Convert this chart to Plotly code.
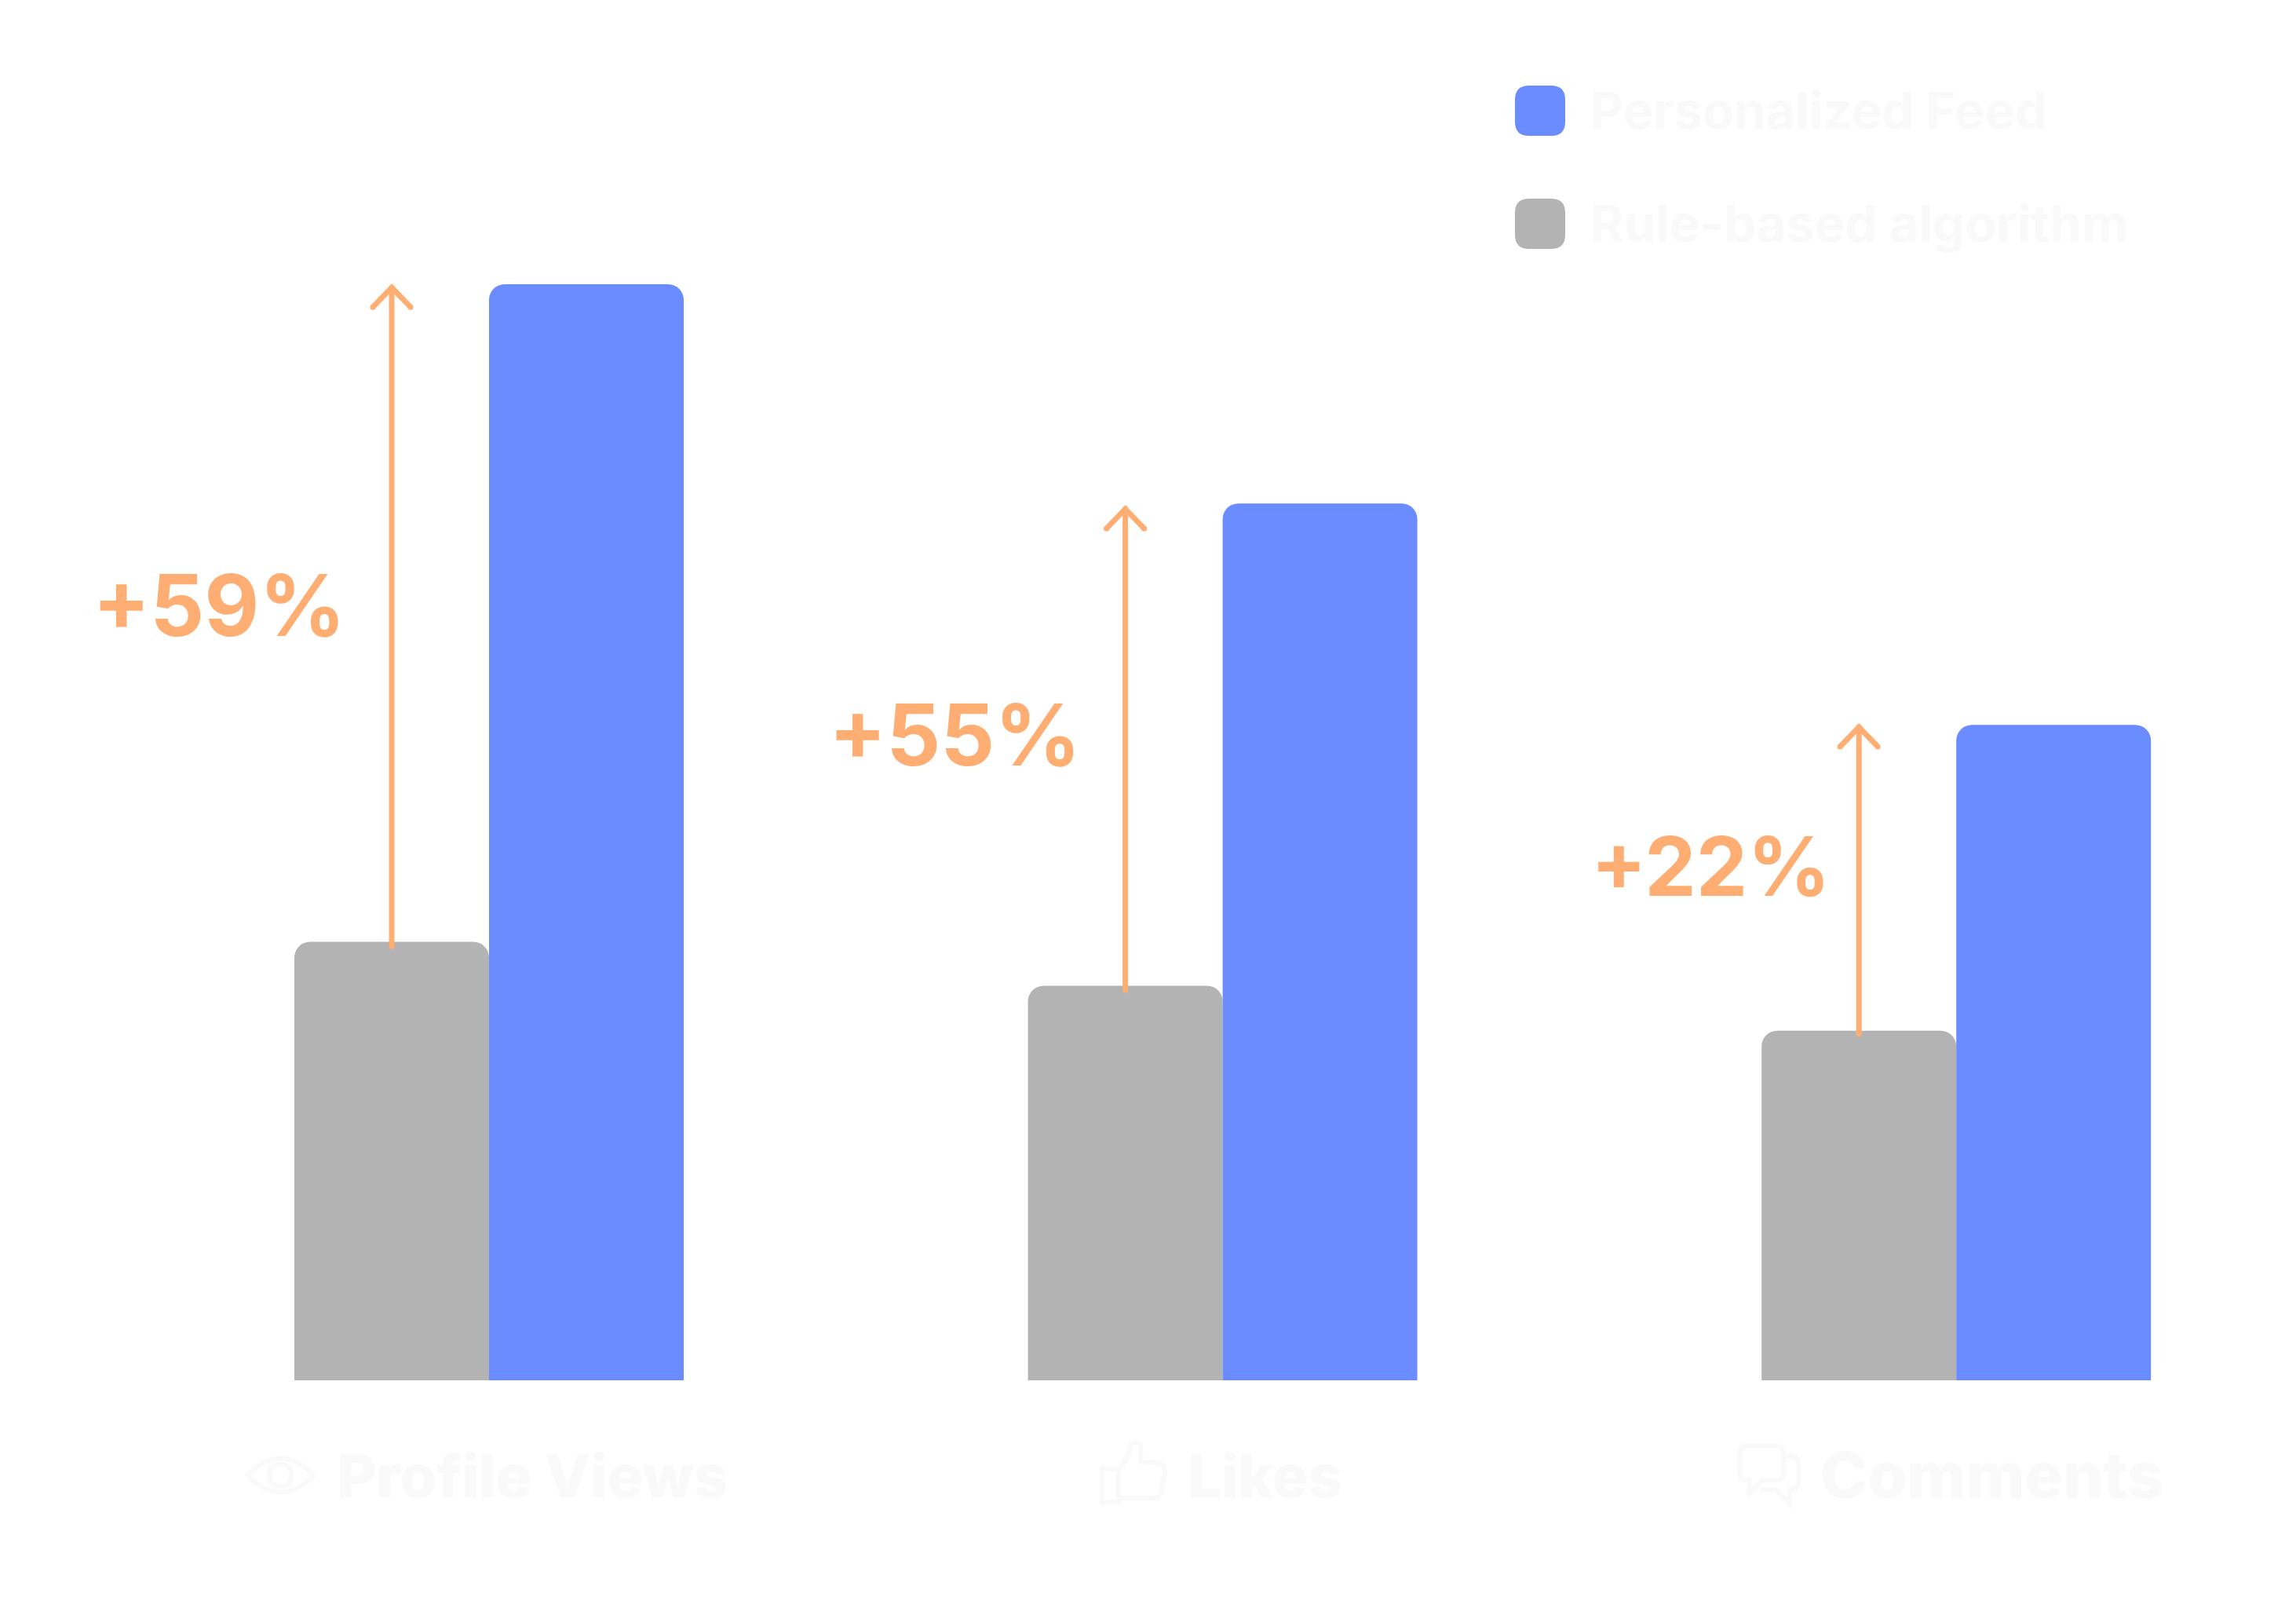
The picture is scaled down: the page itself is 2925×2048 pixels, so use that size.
import re

import plotly.graph_objects as go

# values
categories = ["Profile Views", "Likes", "Comments"]
series_names = ["Personalized Feed", "Rule-based algorithm"]
personalized = [100, 80, 59.8]
rule_based = [40, 36, 31.9]
uplift_labels = ["+59%", "+55%", "+22%"]
arrow_base = [39.6, 35.6, 31.6]
arrow_top = [99.7, 79.5, 59.6]

BLUE = "#6A8CFF"
GREY = "#B3B3B3"
ORANGE = "#FFAE73"
FAINT = "#F9F9F9"
FONT = "Inter"

W, H = 2925, 2048
BASE_PX = 1758  # y pixel of value 0
GROUP_PX = 934.6  # distance between groups
BAR_PX = 248
FIRST_PX = 623  # centre of first group
UNIT_PX = 13.96  # pixels per value unit

x_pos = list(range(len(categories)))
bar_unit = BAR_PX / GROUP_PX
wing_x = 24 / GROUP_PX
wing_y = 25 / UNIT_PX

# pixel offsets and sizes for the text
label_xshift = [-344, -341, -313]
label_yshift = [15, 19, 18]
label_size = [108, 108, 104]
cat_xshift = [-195, -47, -175]
cat_size = [76, 76, 81]


def to_paper(path, ox=0, oy=0, k=1):
    def repl(m):
        x = (ox + float(m.group(1)) * k) / W
        y = 1 - (oy + float(m.group(2)) * k) / H
        return f"{x:.5f},{y:.5f}"
    return re.sub(r"(-?[\d.]+),(-?[\d.]+)", repl, path)


def rounded(x0, y0, x1, y1, r):
    return (f"M{x0 + r},{y0} L{x1 - r},{y0} Q{x1},{y0} {x1},{y0 + r} L{x1},{y1 - r} "
            f"Q{x1},{y1} {x1 - r},{y1} L{x0 + r},{y1} Q{x0},{y1} {x0},{y1 - r} "
            f"L{x0},{y0 + r} Q{x0},{y0} {x0 + r},{y0} Z")


fig = go.Figure()
fig.add_trace(go.Bar(x=x_pos, y=rule_based, name=series_names[1], marker_color=GREY, marker_line_width=0))
fig.add_trace(go.Bar(x=x_pos, y=personalized, name=series_names[0], marker_color=BLUE, marker_line_width=0))

# arrows sit over the centre of the grey bar
arrow_x, arrow_y = [], []
for i in x_pos:
    cx = i - bar_unit / 2
    arrow_x += [cx, cx, None, cx - wing_x, cx, cx + wing_x, None]
    arrow_y += [arrow_base[i], arrow_top[i], None, arrow_top[i] - wing_y, arrow_top[i], arrow_top[i] - wing_y, None]
fig.add_trace(go.Scatter(x=arrow_x, y=arrow_y, mode="lines+markers", hoverinfo="skip",
                         line=dict(color=ORANGE, width=7), marker=dict(color=ORANGE, size=7)))

for i in x_pos:
    fig.add_annotation(x=i, y=(arrow_base[i] + arrow_top[i]) / 2, text=uplift_labels[i], showarrow=False,
                       xanchor="center", yanchor="middle", xshift=label_xshift[i], yshift=label_yshift[i],
                       font=dict(family=FONT, size=label_size[i], color=ORANGE, weight=700))
    fig.add_annotation(x=i, y=-121 / UNIT_PX, text=categories[i], showarrow=False, xanchor="left",
                       yanchor="middle", xshift=cat_xshift[i],
                       font=dict(family=FONT, size=cat_size[i], color=FAINT, weight=800))

# legend
for name, color, top in [(series_names[0], BLUE, 109), (series_names[1], GREY, 253)]:
    fig.add_shape(type="path", path=to_paper(rounded(1930, top, 1994, top + 64, 18)), xref="paper", yref="paper",
                  fillcolor=color, line_width=0)
    fig.add_annotation(x=2024 / W, y=1 - (top + 31) / H, xref="paper", yref="paper", text=name, showarrow=False,
                       xanchor="left", yanchor="middle",
                       font=dict(family=FONT, size=65, color=FAINT, weight=700))

# category icons, outlines
icons = [
    to_paper("M315,1879 Q335,1858 357.5,1857.5 Q380,1858 400,1879 Q380,1900 357.5,1900.5 Q335,1900 315,1879 Z"),
    to_paper("M343,1879 Q343,1865 357,1865 Q371,1865 371,1879 Q371,1893 357,1893 Q343,1893 343,1879 Z"),
    to_paper("M42,137 L105,137 L105,265 L42,265 Z", 1390, 1825, 1 / 3),
    to_paper("M105,137 Q135,110 145,70 L150,50 Q155,35 170,37 Q190,40 190,60 L190,110 L250,113 "
             "Q285,118 282,150 L268,225 Q262,250 240,250 L105,250", 1390, 1825, 1 / 3),
    to_paper("M65,50 L173,50 Q203,50 203,80 L203,150 Q203,180 173,180 L122,180 L70,232 L70,180 L65,180 "
             "Q35,180 35,150 L35,80 Q35,50 65,50 Z", 2205, 1825, 1 / 3),
    to_paper("M213,88 L225,88 Q260,88 260,123 L260,183 Q260,218 225,218 L225,272 L172,218 L112,218",
             2205, 1825, 1 / 3),
]
for path in icons:
    fig.add_shape(type="path", path=path, xref="paper", yref="paper", line=dict(color=FAINT, width=6))

fig.update_layout(
    width=W,
    height=H,
    margin=dict(l=0, r=0, t=0, b=0),
    paper_bgcolor="white",
    plot_bgcolor="white",
    showlegend=False,
    barmode="group",
    bargap=1 - 2 * bar_unit,
    bargroupgap=0,
    barcornerradius=20,
    xaxis=dict(visible=False, range=[-FIRST_PX / GROUP_PX, (W - FIRST_PX) / GROUP_PX]),
    yaxis=dict(visible=False, range=[-(H - BASE_PX) / UNIT_PX, BASE_PX / UNIT_PX]),
)

fig.write_html("out.html", config={"displayModeBar": False}, post_script="document.body.style.margin='0';")
